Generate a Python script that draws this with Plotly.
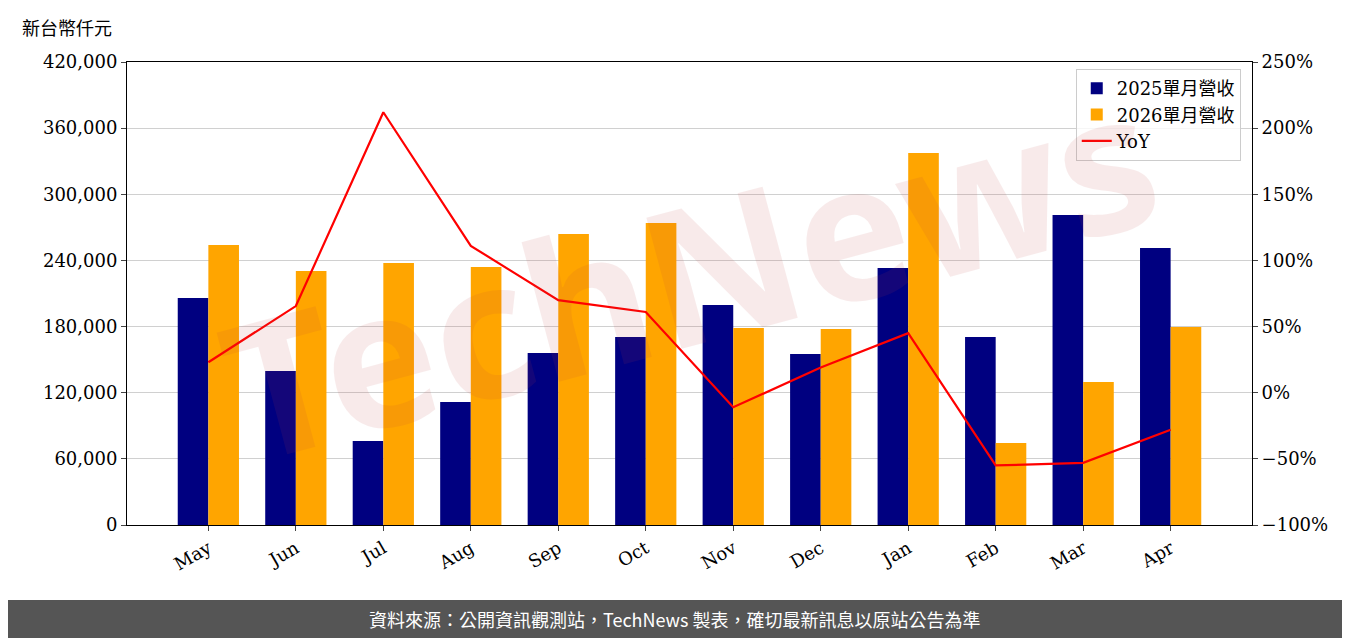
import plotly.graph_objects as go

months = ["May", "Jun", "Jul", "Aug", "Sep", "Oct", "Nov", "Dec", "Jan", "Feb", "Mar", "Apr"]
rev_2025 = [205900, 139700, 76200, 111600, 156000, 170500, 199600, 155100, 233100, 170500, 281200, 251300]
rev_2026 = [254000, 230400, 237700, 234000, 264000, 274000, 178700, 177800, 337500, 74400, 129700, 179600]
yoy = [23, 65.5, 212, 111, 70, 61, -11, 19, 45, -55, -53, -28]

W, H = 1350, 638
OFF = 8  # page body margin
L, T = 127 - OFF, 62 - OFF
R = W - (1252 - OFF)
B = H - (525 - OFF)
pw, ph = W - L - R, H - T - B

font = "DejaVu Serif"
fig = go.Figure()
fig.add_trace(go.Bar(x=months, y=rev_2025, name="2025單月營收", marker_color="#000080",
                     marker_line_width=0))
fig.add_trace(go.Bar(x=months, y=rev_2026, name="2026單月營收", marker_color="#FFA500",
                     marker_line_width=0))
fig.add_trace(go.Scatter(x=months, y=yoy, name="YoY", mode="lines",
                         line=dict(color="#FF0000", width=2.2), yaxis="y2"))

fig.update_layout(
    width=W, height=H, margin=dict(l=L, r=R, t=T, b=B, autoexpand=False),
    paper_bgcolor="white", plot_bgcolor="white",
    font=dict(family=font, size=18, color="black"),
    barmode="group", bargap=0.3, bargroupgap=0,
    showlegend=True,
    legend=dict(x=0.99, y=0.985, xanchor="right", yanchor="top",
                bordercolor="#cccccc", borderwidth=1, bgcolor="rgba(255,255,255,0.8)",
                font=dict(family="DejaVu Serif, Noto Sans CJK TC", size=18)),
    xaxis=dict(range=[-0.93, 11.93], showline=True, linecolor="black", mirror=True,
               ticks="outside", tickangle=-30),
    yaxis=dict(range=[0, 420000], dtick=60000, tickformat=",", showgrid=True,
               gridcolor="#d0d0d0", showline=True, linecolor="black", mirror=True,
               ticks="outside", zeroline=False),
    yaxis2=dict(range=[-100, 250], dtick=50, ticksuffix="%", overlaying="y",
                side="right", showgrid=False, ticks="outside", zeroline=False,
                showline=True, linecolor="black"),
)

# unit label
fig.add_annotation(text="新台幣仟元", xref="paper", yref="paper",
                   x=-(L - (20 - OFF)) / pw, y=1 + (T - (27 - OFF)) / ph,
                   xanchor="left", yanchor="middle",
                   showarrow=False, font=dict(family="Noto Sans CJK TC", size=18))

# watermark
fig.add_annotation(text="<b>TechNews</b>", xref="paper", yref="paper", x=0.5, y=0.55,
                   showarrow=False, textangle=-15, opacity=0.1,
                   font=dict(family="Noto Sans", size=190, color="#c04040"))

# footer
fig.add_shape(type="rect", xref="paper", yref="paper", x0=-L / pw - 0.02, x1=(W - L) / pw,
              y0=-B / ph, y1=-((600 - OFF) - (T + ph)) / ph,
              fillcolor="#555555", line_width=0, layer="above")
fig.add_annotation(text="資料來源：公開資訊觀測站，TechNews 製表，確切最新訊息以原站公告為準",
                   xref="paper", yref="paper", x=((675 - OFF) - L) / pw,
                   y=-(((619 - OFF) - (T + ph)) / ph), yanchor="middle", showarrow=False,
                   font=dict(family="Noto Sans CJK TC", size=18, color="white"))

fig.write_html("out.html")
